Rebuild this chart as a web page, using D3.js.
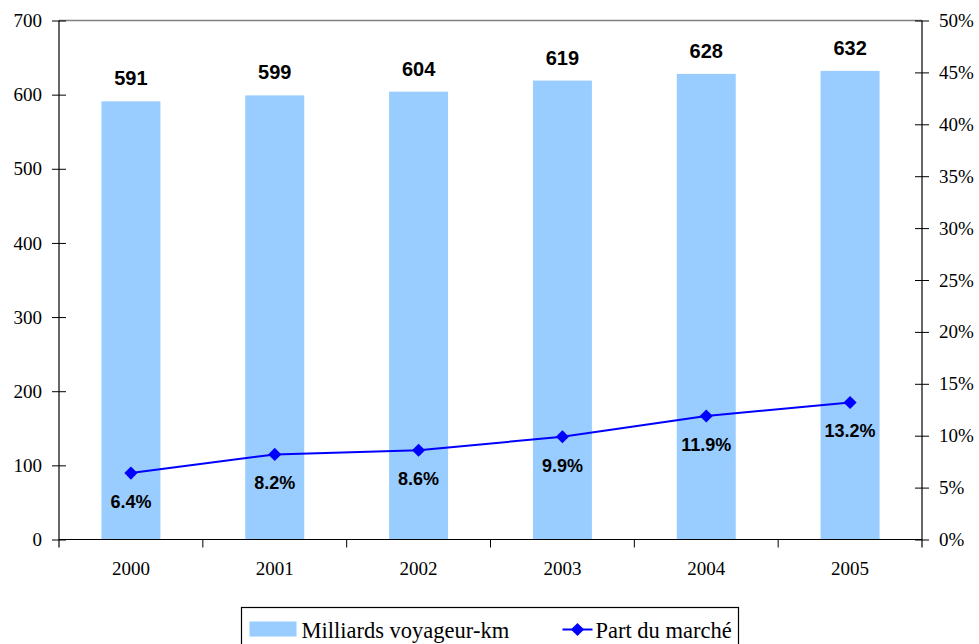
<!DOCTYPE html>
<html>
<head>
<meta charset="utf-8">
<script src="https://d3js.org/d3.v7.min.js"></script>
<style>
  body { margin: 0; background: #fff; }
  svg { display: block; }
</style>
</head>
<body>
<script>
// chart data
var years = ["2000", "2001", "2002", "2003", "2004", "2005"];
var voyageurKm = [591, 599, 604, 619, 628, 632];
var partMarche = [6.4, 8.2, 8.6, 9.9, 11.9, 13.2];
var leftTicks = [0, 100, 200, 300, 400, 500, 600, 700];
var rightTicks = [0, 5, 10, 15, 20, 25, 30, 35, 40, 45, 50];

var svgWidth = 979;
var svgHeight = 644;

var margin = { top: 20.5, right: 57, bottom: 104.5, left: 59 };
var chartwidth = svgWidth - margin.left - margin.right;
var chartheight = svgHeight - margin.top - margin.bottom;

var barColor = "#99CCFF";
var lineColor = "#0000FF";
var serif = "'Liberation Serif'";
var sans = "'Liberation Sans'";

var svg = d3.select("body")
    .append("svg")
    .attr("width", svgWidth)
    .attr("height", svgHeight);

var chartgroup = svg.append("g")
    .attr("transform", `translate(${margin.left}, ${margin.top})`);

// scales
var xband = d3.scaleBand()
    .domain(years)
    .range([0, chartwidth])
    .paddingInner(0)
    .paddingOuter(0);

var yleft = d3.scaleLinear().domain([0, 700]).range([chartheight, 0]);
var yright = d3.scaleLinear().domain([0, 50]).range([chartheight, 0]);

var barW = xband.bandwidth() * 0.41;

// top border of plot area
chartgroup.append("line")
    .attr("x1", 0).attr("x2", chartwidth)
    .attr("y1", 0).attr("y2", 0)
    .attr("stroke", "#808080")
    .attr("stroke-width", 1.5);

// bars
chartgroup.selectAll("rect.bar")
    .data(voyageurKm)
    .enter()
    .append("rect")
    .attr("class", "bar")
    .attr("x", (d, i) => xband(years[i]) + xband.bandwidth() / 2 - barW / 2)
    .attr("y", d => yleft(d))
    .attr("width", barW)
    .attr("height", d => chartheight - yleft(d))
    .attr("fill", barColor);

// bar value labels
chartgroup.selectAll("text.barlabel")
    .data(voyageurKm)
    .enter()
    .append("text")
    .attr("class", "barlabel")
    .attr("x", (d, i) => xband(years[i]) + xband.bandwidth() / 2)
    .attr("y", d => yleft(d) - 16)
    .attr("text-anchor", "middle")
    .style("font-family", sans)
    .style("font-weight", "bold")
    .style("font-size", "20px")
    .text(d => d);

// left axis
var leftaxis = d3.axisLeft(yleft).tickValues(leftTicks).tickSize(7).tickPadding(10);
var lg = chartgroup.append("g").call(leftaxis);
lg.select(".domain").remove();
lg.selectAll(".tick line").attr("x1", 7).attr("x2", -7).attr("stroke", "#000");
lg.selectAll(".tick text")
    .attr("fill", "#000")
    .style("font-family", serif)
    .style("font-size", "19px");
lg.append("line")
    .attr("x1", 0).attr("x2", 0)
    .attr("y1", 0).attr("y2", chartheight + 8)
    .attr("stroke", "#000").attr("stroke-width", 1.2);

// right axis
var rightaxis = d3.axisRight(yright)
    .tickValues(rightTicks)
    .tickSize(7)
    .tickPadding(10)
    .tickFormat(d => d + "%");
var rg = chartgroup.append("g")
    .attr("transform", `translate(${chartwidth}, 0)`)
    .call(rightaxis);
rg.select(".domain").remove();
rg.selectAll(".tick line").attr("x1", -7).attr("x2", 7).attr("stroke", "#000");
rg.selectAll(".tick text")
    .attr("fill", "#000")
    .style("font-family", serif)
    .style("font-size", "19px");
rg.append("line")
    .attr("x1", 0).attr("x2", 0)
    .attr("y1", 0).attr("y2", chartheight + 8)
    .attr("stroke", "#000").attr("stroke-width", 1.2);

// bottom axis
var bottomaxis = d3.axisBottom(xband).tickSize(0).tickPadding(22);
var bg = chartgroup.append("g")
    .attr("transform", `translate(0, ${chartheight})`)
    .call(bottomaxis);
bg.select(".domain").remove();
bg.selectAll(".tick text")
    .attr("fill", "#000")
    .style("font-family", serif)
    .style("font-size", "19px");
bg.append("line")
    .attr("x1", 0).attr("x2", chartwidth)
    .attr("y1", 0).attr("y2", 0)
    .attr("stroke", "#000").attr("stroke-width", 1.2);
// category boundary ticks
bg.selectAll("line.sep")
    .data(years.slice(1))
    .enter()
    .append("line")
    .attr("class", "sep")
    .attr("x1", d => xband(d)).attr("x2", d => xband(d))
    .attr("y1", 0).attr("y2", 8)
    .attr("stroke", "#000");

// market share line
var cx = (d, i) => xband(years[i]) + xband.bandwidth() / 2;
var line = d3.line()
    .x((d, i) => cx(d, i))
    .y(d => yright(d));

chartgroup.append("path")
    .datum(partMarche)
    .attr("d", line)
    .attr("fill", "none")
    .attr("stroke", lineColor)
    .attr("stroke-width", 2);

var diamond = d3.symbol().type(d3.symbolDiamond2).size(110);

chartgroup.selectAll("path.pt")
    .data(partMarche)
    .enter()
    .append("path")
    .attr("class", "pt")
    .attr("d", diamond)
    .attr("transform", (d, i) => `translate(${cx(d, i)}, ${yright(d)})`)
    .attr("fill", lineColor);

// percent labels with boxes behind them
var pl = chartgroup.selectAll("g.pctlabel")
    .data(partMarche)
    .enter()
    .append("g")
    .attr("class", "pctlabel")
    .attr("transform", (d, i) => `translate(${cx(d, i)}, ${yright(d) + 35})`);

pl.append("rect").attr("fill", barColor);
pl.append("text")
    .attr("text-anchor", "middle")
    .style("font-family", sans)
    .style("font-weight", "bold")
    .style("font-size", "18px")
    .text(d => d.toFixed(1) + "%");

pl.each(function() {
    var g = d3.select(this);
    var w = g.select("text").node().getBBox().width + 6;
    g.select("rect")
        .attr("x", -w / 2).attr("width", w)
        .attr("y", -24).attr("height", 38);
});

// legend
var legend = svg.append("g")
    .attr("transform", "translate(241.5, 607.5)");
legend.append("rect")
    .attr("width", 497).attr("height", 45)
    .attr("fill", "#fff")
    .attr("stroke", "#000")
    .attr("stroke-width", 1.2);
legend.append("rect")
    .attr("x", 8).attr("y", 14)
    .attr("width", 47).attr("height", 15)
    .attr("fill", barColor);
legend.append("text")
    .attr("x", 60).attr("y", 30)
    .style("font-family", serif)
    .style("font-size", "22.5px")
    .text("Milliards voyageur-km");
legend.append("line")
    .attr("x1", 321).attr("x2", 351)
    .attr("y1", 22).attr("y2", 22)
    .attr("stroke", lineColor).attr("stroke-width", 2);
legend.append("path")
    .attr("d", diamond)
    .attr("transform", "translate(336, 22)")
    .attr("fill", lineColor);
legend.append("text")
    .attr("x", 354).attr("y", 30)
    .style("font-family", serif)
    .style("font-size", "22.5px")
    .text("Part du marché");
</script>
</body>
</html>
